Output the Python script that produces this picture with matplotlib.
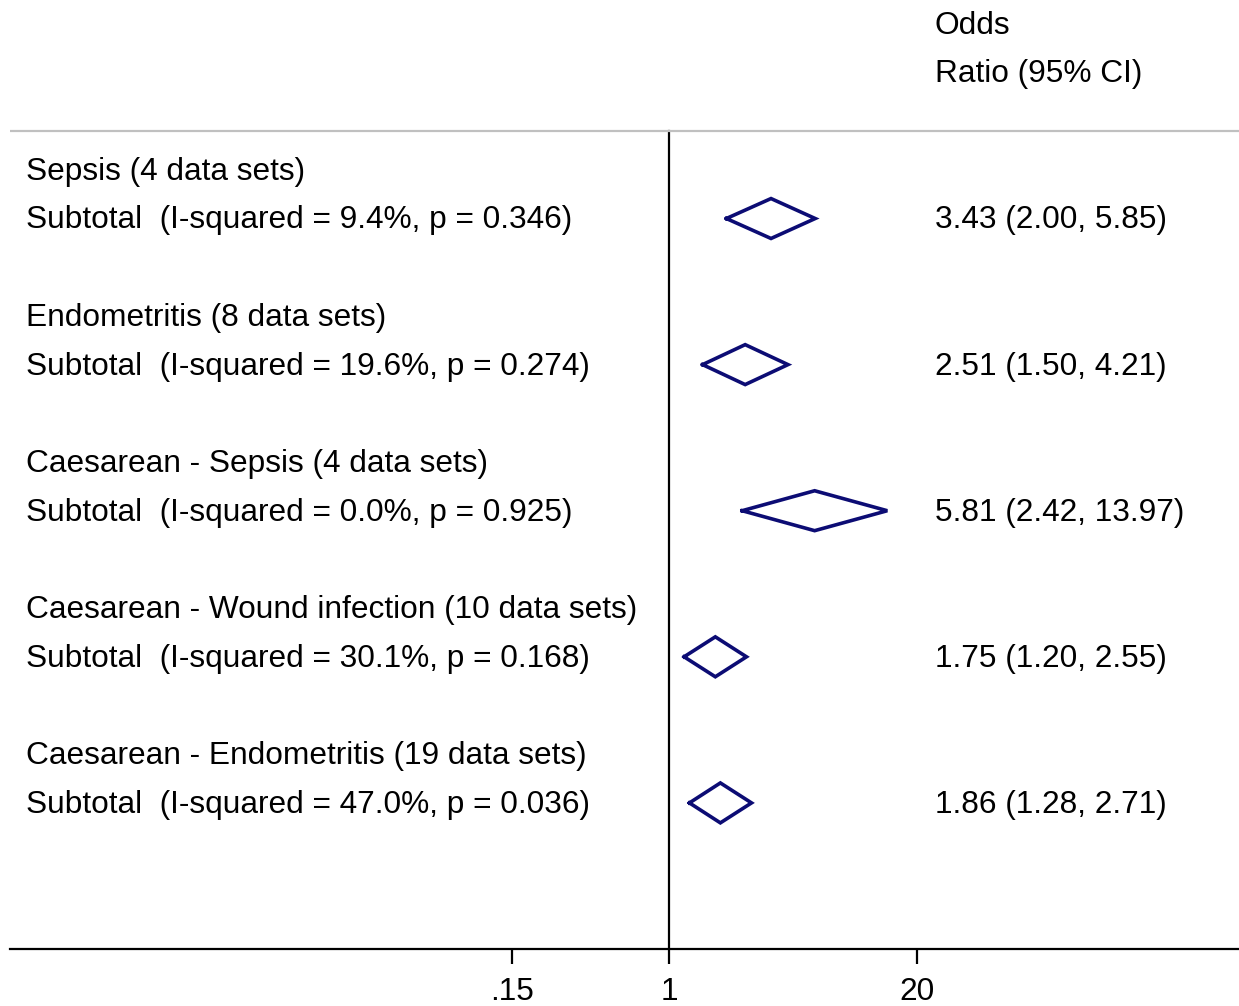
import numpy as np
import matplotlib
matplotlib.use("Agg")
import matplotlib.pyplot as plt
from matplotlib import transforms

# ------------- DATA -------------
groups = [
    "Sepsis (4 data sets)",
    "Endometritis (8 data sets)",
    "Caesarean - Sepsis (4 data sets)",
    "Caesarean - Wound infection (10 data sets)",
    "Caesarean - Endometritis (19 data sets)",
]
subtotals = [
    "Subtotal  (I-squared = 9.4%, p = 0.346)",
    "Subtotal  (I-squared = 19.6%, p = 0.274)",
    "Subtotal  (I-squared = 0.0%, p = 0.925)",
    "Subtotal  (I-squared = 30.1%, p = 0.168)",
    "Subtotal  (I-squared = 47.0%, p = 0.036)",
]
odds_ratio = [3.43, 2.51, 5.81, 1.75, 1.86]
ci_low = [2.00, 1.50, 2.42, 1.20, 1.28]
ci_high = [5.85, 4.21, 13.97, 2.55, 2.71]
tick_vals = [0.15, 1, 20]
tick_labels = [".15", "1", "20"]
# --------------------------------

plt.rcParams["font.family"] = ["Liberation Sans", "DejaVu Sans"]
FS = 22.8
NAVY = "#0c0c74"

W, H = 1239, 1006
fig = plt.figure(figsize=(W / 100, H / 100), dpi=100)

# axes placed so the log scale matches the original pixel layout
left_px, bottom_px = 10, 949
ax = fig.add_axes([left_px / W, 1 - bottom_px / H, 1 - left_px / W, bottom_px / H])

px_per_log = 82.77
one_px = 669
ax.set_xscale("log")
ax.set_xlim(np.exp((left_px - one_px) / px_per_log), np.exp((W - one_px) / px_per_log))

row_px = 48.75
row0_px = 170
ax.set_ylim(16, (0 - row0_px) / row_px)

# diamonds
half_h = 0.41
for i, (o, lo, hi) in enumerate(zip(odds_ratio, ci_low, ci_high)):
    y = 3 * i + 1
    xs = [lo, o, hi, o, lo]
    ys = [y, y - half_h, y, y + half_h, y]
    ax.plot(xs, ys, color=NAVY, lw=2.6, solid_joinstyle="miter")

# null line and header separator
ax.plot([1, 1], [16, -0.8], color="black", lw=1.6)
ax.axhline(-0.8, color="#c0c0c0", lw=1.6)

trans = transforms.blended_transform_factory(fig.transFigure, ax.transData)
x_left = 26 / W
x_right = 935 / W
dy = 0.04
for i in range(len(groups)):
    ax.text(x_left, 3 * i + dy, groups[i], transform=trans, fontsize=FS, va="center", ha="left")
    ax.text(x_left, 3 * i + 1 + dy, subtotals[i], transform=trans, fontsize=FS, va="center", ha="left")
    ci_txt = f"{odds_ratio[i]:.2f} ({ci_low[i]:.2f}, {ci_high[i]:.2f})"
    ax.text(x_right, 3 * i + 1 + dy, ci_txt, transform=trans, fontsize=FS, va="center", ha="left")

ax.text(x_right, -3.0 + dy, "Odds", transform=trans, fontsize=FS, va="center", ha="left")
ax.text(x_right, -2.0 + dy, "Ratio (95% CI)", transform=trans, fontsize=FS, va="center", ha="left")

for s in ["top", "right", "left"]:
    ax.spines[s].set_visible(False)
ax.spines["bottom"].set_linewidth(1.6)
ax.set_yticks([])
ax.set_xticks(tick_vals)
ax.set_xticklabels(tick_labels)
ax.xaxis.set_minor_locator(matplotlib.ticker.NullLocator())
ax.tick_params(axis="x", length=11, width=1.6, pad=9, labelsize=FS)

fig.savefig("out.png", dpi=100)
